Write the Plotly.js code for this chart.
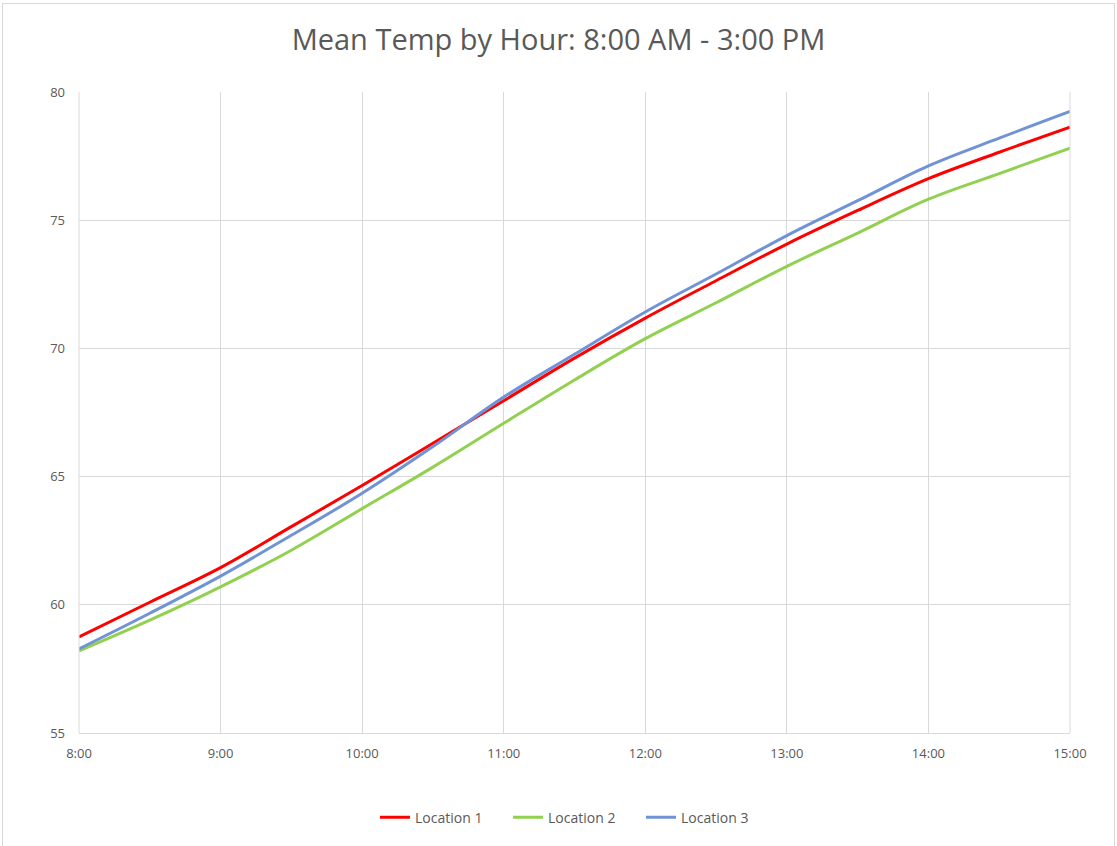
<!DOCTYPE html>
<html>
<head>
<meta charset="utf-8">
<script src="https://cdn.plot.ly/plotly-3.0.1.min.js"></script>
<style>
  html, body { margin: 0; padding: 0; background: #ffffff; }
  #wrap { position: relative; width: 1117px; height: 846px; }
  #chart { position: absolute; left: 0; top: 0; width: 1117px; height: 846px; }
  #frame { position: absolute; left: 2px; top: 3px; width: 1111px; height: 850px;
           border: 1px solid #d9d9d9; pointer-events: none; }
</style>
</head>
<body>
<div id="wrap">
  <div id="chart"></div>
  <div id="frame"></div>
</div>
<script>
// Times (half-hour readings)
const times = ["08:00","08:30","09:00","09:30","10:00","10:30","11:00","11:30",
               "12:00","12:30","13:00","13:30","14:00","14:30","15:00"];
const location1 = [58.75, 60.1, 61.45, 63.05, 64.65, 66.3, 67.96, 69.62,
                   71.18, 72.64, 74.07, 75.38, 76.62, 77.65, 78.63];
const location2 = [58.2, 59.4, 60.7, 62.13, 63.75, 65.37, 67.08, 68.77,
                   70.38, 71.78, 73.2, 74.5, 75.82, 76.82, 77.81];
const location3 = [58.28, 59.67, 61.12, 62.71, 64.35, 66.17, 68.1, 69.77,
                   71.42, 72.9, 74.4, 75.76, 77.12, 78.2, 79.24];
const seriesNames = ["Location 1", "Location 2", "Location 3"];
const seriesColors = ["#ff0000", "#92d050", "#7093d6"];
const yTicks = [55, 60, 65, 70, 75, 80];

const xs = times.map(t => "2000-01-01 " + t);
const data = [location1, location2, location3].map((ys, i) => ({
  x: xs, y: ys, type: "scatter", mode: "lines", name: seriesNames[i],
  line: { color: seriesColors[i], width: 3, shape: "spline", smoothing: 1 },
  hoverinfo: "skip"
}));

const layout = {
  width: 1117, height: 846,
  margin: { l: 79, r: 47, t: 92, b: 111 },
  paper_bgcolor: "rgba(0,0,0,0)", plot_bgcolor: "#ffffff",
  font: { family: "Open Sans, sans-serif", color: "#595959" },
  title: {
    text: "Mean Temp by Hour: 8:00 AM - 3:00 PM",
    font: { family: "Open Sans, sans-serif", size: 29, color: "#595959" },
    x: 0.5, xanchor: "center", y: 0.953, yanchor: "middle"
  },
  xaxis: {
    type: "date",
    range: ["2000-01-01 08:00", "2000-01-01 15:00"],
    tick0: "2000-01-01 08:00", dtick: 3600000, tickformat: "%-H:%M",
    showgrid: true, gridcolor: "#d9d9d9", gridwidth: 1,
    showline: true, linecolor: "#d9d9d9", linewidth: 1,
    zeroline: false, ticks: "", ticklen: 0, ticklabelstandoff: 8,
    tickfont: { size: 13, color: "#595959" }, fixedrange: true
  },
  yaxis: {
    range: [55, 80], tickvals: yTicks, ticktext: yTicks.map(String),
    showgrid: true, gridcolor: "#d9d9d9", gridwidth: 1,
    showline: false, zeroline: false, ticks: "", ticklabelstandoff: 13,
    tickfont: { size: 13, color: "#595959" }, fixedrange: true
  },
  showlegend: true,
  legend: {
    orientation: "h", x: 0.5, xanchor: "center", y: -0.132, yanchor: "middle",
    font: { size: 14, color: "#595959" }, bgcolor: "rgba(0,0,0,0)",
    itemwidth: 30, tracegroupgap: 0, entrywidth: 88, entrywidthmode: "pixels"
  },
  shapes: [
    { type: "line", xref: "paper", yref: "paper", x0: 1, x1: 1, y0: 0, y1: 1,
      line: { color: "#d9d9d9", width: 1 } },
    { type: "line", xref: "paper", yref: "paper", x0: 0, x1: 0, y0: 0, y1: 1,
      line: { color: "#d9d9d9", width: 1 } }
  ]
};

Plotly.newPlot("chart", data, layout, { displayModeBar: false, staticPlot: true });
</script>
</body>
</html>
